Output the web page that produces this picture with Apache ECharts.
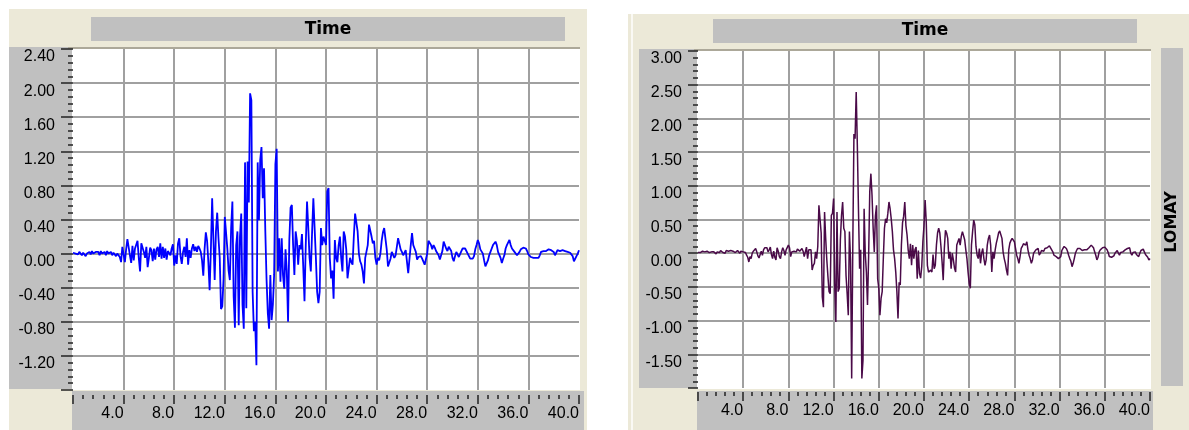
<!DOCTYPE html>
<html>
<head>
<meta charset="utf-8">
<style>
html, body { margin: 0; padding: 0; background: #fff; }
#main { width: 1189px; height: 430px; }
</style>
<script src="https://cdn.jsdelivr.net/npm/echarts@6/dist/echarts.min.js"></script>
</head>
<body>
<div id="main"></div>
<script>
// sample step of both records (s)
const dt = 0.1;

// left record (blue), one value every dt from 0 to 40 s
const accBlue = [
  0.01, 0.02, 0.00, 0.01, -0.01, 0.02, 0.00, -0.02, 0.01, 0.00,
  -0.03, 0.00, -0.02, 0.02, -0.01, 0.03, 0.00, -0.02, 0.02, 0.01,
  0.02, -0.02, 0.03, 0.00, -0.01, 0.02, -0.02, 0.03, 0.00, -0.01,
  0.02, -0.02, 0.01, 0.03, -0.03, 0.00, 0.02, -0.04, -0.10, 0.08,
  0.10, -0.10, 0.05, 0.17, 0.15, -0.02, -0.11, 0.09, -0.08, 0.06,
  0.05, 0.15, -0.05, -0.21, 0.12, 0.10, 0.02, -0.05, 0.08, -0.16,
  -0.05, 0.07, 0.04, -0.09, 0.06, -0.07, 0.05, 0.08, -0.04, 0.12,
  -0.06, 0.08, -0.05, 0.06, -0.07, 0.03, 0.05, -0.02, 0.06, 0.11,
  -0.14, -0.02, -0.12, 0.12, 0.18, -0.03, -0.12, 0.02, 0.08, -0.04,
  0.18, -0.13, 0.04, -0.05, 0.06, 0.11, 0.03, 0.08, 0.02, 0.09,
  0.06, 0.02, -0.08, -0.26, 0.05, 0.25, 0.15, -0.10, -0.43, 0.05,
  0.65, 0.66, -0.31, 0.26, 0.48, 0.18, -0.05, -0.65, -0.62, -0.30,
  0.43, 0.41, 0.06, -0.20, -0.31, 0.30, 0.61, -0.50, -0.87, 0.10,
  0.26, -0.84, 0.20, 0.47, -0.60, -0.88, 1.07, -0.64, 1.08, 0.60,
  1.88, 1.80, -0.45, -0.91, -0.80, -1.31, 1.07, 0.39, 1.10, 1.25,
  0.65, 1.00, 0.28, -0.30, -0.70, -0.88, -0.25, -0.78, -0.60, -0.25,
  1.05, 1.23, -0.21, 0.18, -0.33, 0.18, -0.25, -0.41, 0.05, -0.20,
  -0.80, 0.16, 0.54, 0.57, 0.10, -0.25, 0.26, 0.15, -0.13, 0.10,
  0.05, 0.23, -0.15, -0.56, 0.10, 0.61, 0.30, -0.05, -0.21, 0.25,
  0.65, 0.66, -0.05, -0.45, -0.58, -0.45, 0.30, 0.10, 0.20, 0.18,
  0.10, 0.73, 0.77, -0.05, -0.29, -0.20, -0.53, 0.16, -0.05, -0.10,
  0.10, 0.20, -0.05, -0.21, 0.26, 0.20, 0.05, -0.29, -0.31, -0.05,
  -0.10, -0.13, 0.20, 0.47, 0.45, 0.26, 0.00, -0.09, -0.13, -0.21,
  -0.35, -0.05, -0.03, 0.10, 0.34, 0.33, 0.20, 0.12, 0.15, -0.05,
  -0.13, -0.05, -0.08, 0.00, 0.15, 0.25, 0.30, 0.28, 0.05, -0.15,
  -0.17, -0.06, 0.02, 0.03, -0.05, -0.02, 0.08, 0.18, 0.17, 0.05,
  0.02, -0.02, 0.00, 0.04, 0.02, -0.23, -0.06, 0.10, 0.24, 0.10,
  0.06, 0.02, -0.07, -0.04, -0.05, -0.03, -0.06, -0.08, -0.13, -0.11,
  0.00, 0.15, 0.13, 0.10, 0.05, 0.10, 0.07, 0.03, 0.05, -0.02,
  -0.07, -0.05, 0.03, 0.14, 0.10, 0.06, 0.03, 0.08, 0.07, 0.03,
  -0.05, -0.09, -0.03, 0.02, -0.01, -0.04, -0.02, 0.03, 0.06, 0.08,
  0.06, 0.04, 0.00, -0.03, -0.06, -0.05, -0.06, -0.03, 0.05, 0.10,
  0.16, 0.12, 0.05, 0.03, 0.00, -0.08, -0.15, -0.15, -0.08, -0.02,
  0.02, 0.06, 0.10, 0.12, 0.14, 0.10, 0.02, 0.00, -0.05, -0.11,
  -0.06, -0.02, 0.06, 0.10, 0.12, 0.16, 0.10, 0.06, 0.05, 0.02,
  0.02, -0.02, -0.03, 0.02, 0.05, 0.07, 0.07, 0.06, 0.06, 0.03,
  -0.01, -0.02, -0.04, -0.03, -0.05, -0.04, -0.05, -0.06, -0.05, -0.02,
  0.02, 0.02, 0.03, 0.04, 0.03, 0.04, 0.05, 0.04, 0.04, 0.05,
  0.02, -0.02, 0.01, 0.04, 0.02, 0.03, 0.01, 0.04, 0.02, 0.03,
  0.04, 0.02, 0.03, 0.01, 0.02, -0.03, -0.09, -0.08, -0.03, 0.00,
  0.04
];

// right record (LOMAY)
const accPurple = [
  0.01, 0.02, 0.01, 0.02, 0.03, 0.01, 0.02, 0.00, 0.03, 0.02,
  0.01, 0.03, 0.02, 0.00, 0.02, 0.03, -0.01, 0.02, 0.03, 0.01,
  0.04, 0.02, 0.01, 0.03, 0.00, 0.04, 0.02, 0.03, 0.01, 0.04,
  0.02, 0.03, 0.05, 0.01, 0.03, 0.04, 0.02, 0.00, 0.03, 0.01,
  0.02, 0.04, 0.01, -0.03, -0.06, -0.13, -0.05, -0.08, 0.00, 0.03,
  0.05, 0.07, 0.02, -0.04, -0.07, -0.02, 0.03, -0.03, 0.05, 0.08,
  0.06, 0.08, 0.02, 0.05, 0.09, -0.02, -0.08, 0.03, -0.06, -0.10,
  0.08, 0.03, -0.05, -0.08, 0.02, 0.08, 0.04, -0.03, 0.05, 0.06,
  0.12, 0.08, -0.05, 0.02, 0.04, 0.03, 0.05, 0.02, 0.06, 0.04,
  0.03, 0.05, 0.07, 0.03, -0.05, 0.02, 0.09, -0.08, 0.05, 0.07,
  0.05, -0.25, -0.18, -0.15, 0.02, -0.08, 0.10, 0.71, 0.69, 0.30,
  -0.65, -0.80, 0.61, 0.22, -0.10, -0.35, -0.57, -0.60, 0.56, 0.59,
  0.81, -0.47, -1.02, 0.61, -0.57, -0.52, 0.20, 0.56, 0.76, 0.37,
  0.32, -0.33, -0.60, -0.92, 0.32, -0.10, -1.86, 0.12, 1.77, 1.70,
  2.39, 1.60, 0.66, -0.23, 0.05, -1.86, -1.59, 0.66, 0.00, -0.28,
  -0.77, -0.05, 0.91, 1.18, 0.86, 0.37, 0.02, 0.55, 0.71, -0.38,
  -0.52, -0.92, -0.67, -0.57, -0.08, 0.37, 0.51, 0.45, 0.59, 0.76,
  0.66, 0.51, 0.32, 0.05, -0.08, -0.28, -0.57, -0.97, -0.43, -0.47,
  0.12, 0.45, 0.55, 0.76, 0.41, 0.27, 0.05, -0.08, 0.14, -0.18,
  0.12, -0.08, 0.05, 0.09, -0.38, 0.04, -0.30, -0.37, -0.20, 0.17,
  0.41, 0.79, 0.46, -0.18, -0.28, -0.28, -0.25, -0.28, -0.02, -0.23,
  -0.18, 0.12, 0.30, 0.37, 0.30, 0.10, -0.13, -0.40, 0.07, 0.34,
  0.30, 0.22, -0.08, 0.02, -0.23, 0.00, -0.10, -0.22, -0.28, 0.12,
  0.17, 0.22, 0.12, 0.25, 0.32, 0.34, 0.20, 0.05, -0.08, -0.28,
  -0.45, -0.52, 0.12, 0.32, 0.49, 0.42, 0.10, -0.03, -0.08, 0.07,
  -0.15, 0.00, 0.07, -0.08, -0.18, -0.10, 0.12, 0.22, 0.27, 0.12,
  -0.28, 0.02, -0.08, 0.05, 0.15, 0.22, 0.30, 0.33, 0.34, 0.22,
  0.02, -0.08, -0.15, -0.25, -0.33, 0.05, 0.15, 0.19, 0.22, 0.20,
  0.17, 0.07, -0.03, -0.08, -0.15, -0.05, 0.07, 0.10, 0.14, 0.12,
  0.12, 0.17, 0.05, -0.03, -0.08, -0.15, -0.10, 0.00, 0.02, 0.05,
  0.05, 0.07, -0.03, 0.00, 0.04, 0.05, 0.03, 0.07, 0.06, 0.08,
  0.10, 0.11, 0.08, 0.05, 0.02, -0.03, -0.02, -0.05, -0.06, -0.08,
  -0.10, -0.05, 0.04, 0.07, 0.10, 0.09, 0.07, 0.03, -0.03, -0.08,
  -0.12, -0.20, -0.15, -0.08, 0.00, 0.04, 0.07, 0.09, 0.07, 0.05,
  0.04, 0.06, 0.05, 0.07, 0.05, 0.06, 0.08, 0.10, 0.12, 0.10,
  0.08, 0.02, -0.03, -0.10, -0.06, 0.02, 0.05, 0.06, 0.08, 0.09,
  0.09, 0.07, 0.05, 0.01, -0.05, -0.03, -0.06, -0.08, -0.04, 0.00,
  0.02, 0.04, 0.00, -0.03, 0.01, 0.03, 0.02, 0.04, 0.05, 0.07,
  0.07, 0.09, 0.08, 0.00, -0.03, 0.01, 0.03, 0.02, -0.02, -0.04,
  -0.05, 0.00, 0.04, 0.05, 0.06, 0.02, -0.02, -0.04, -0.06, -0.10,
  -0.08
];

// axis ranges
const timeMin = 0, timeMax = 40, timeStep = 4;
const leftMin = -1.6, leftMax = 2.4, leftStep = 0.4;
const rightMin = -2, rightMax = 3, rightStep = 0.5;
const titleText = 'Time';
const stationName = 'LOMAY';

const numFont = '"Liberation Sans", Arial, sans-serif';
const boldFont = 'bold 17px "DejaVu Sans", sans-serif';

function toPairs(values){
    return values.map((v, i) => [+(i * dt).toFixed(1), v])
}

function xAxisFor(idx, offset){
    return {
        type: 'value', gridIndex: idx, position: 'bottom',
        min: timeMin, max: timeMax, interval: timeStep,
        offset: offset,
        axisLine: { show: false, onZero: false },
        axisTick: { show: true, length: 9, lineStyle: { color: '#222', width: 1.5 } },
        minorTick: { show: true, splitNumber: 5, length: 4, lineStyle: { color: '#222', width: 1.5 } },
        axisLabel: {
            showMinLabel: false, align: 'right', margin: 11,
            fontSize: 16, fontFamily: numFont, color: '#000',
            formatter: v => v.toFixed(1)
        },
        splitLine: { show: true, showMinLine: false, showMaxLine: false, lineStyle: { color: '#a0a0a0', width: 2 } }
    }
}

function yAxisFor(idx, min, max, step, tickLen, margin){
    return {
        type: 'value', gridIndex: idx, position: 'left',
        min: min, max: max, interval: step,
        axisLine: { show: false, onZero: false },
        axisTick: { show: true, length: tickLen, lineStyle: { color: '#222', width: 1.5 } },
        minorTick: { show: true, splitNumber: 5, length: 5, lineStyle: { color: '#222', width: 1.5 } },
        axisLabel: {
            showMinLabel: false, verticalAlign: 'top', margin: margin,
            fontSize: 16, fontFamily: numFont, color: '#000',
            formatter: v => v.toFixed(2)
        },
        splitLine: { show: true, showMinLine: false, showMaxLine: false, lineStyle: { color: '#a0a0a0', width: 2 } }
    }
}

function rect(x, y, w, h, fill){
    return { type: 'rect', z: -10, shape: { x: x, y: y, width: w, height: h }, style: { fill: fill }, silent: true }
}

const beige = '#ece9d8', panelGray = '#c0c0c0', shadow = '#aca899';

const myChart = echarts.init(document.getElementById('main'));
const option = {
    animation: false,
    backgroundColor: '#fff',
    graphic: [
        // left frame
        rect(9, 9, 578, 421, beige),
        rect(91, 17, 474, 24, panelGray),
        rect(9, 47, 63, 342, panelGray),
        rect(72, 48, 508, 342, '#fff'),
        rect(68, 47, 512, 2, shadow),
        rect(72, 391, 512, 39, panelGray),
        { type: 'text', z: 10, x: 328, y: 30, style: { text: titleText, font: boldFont, fill: '#000', align: 'center', verticalAlign: 'middle' } },
        // right frame
        rect(628, 14, 561, 416, beige),
        rect(631, 14, 2, 416, '#faf9f4'),
        rect(713, 19, 424, 24, panelGray),
        rect(639, 49, 58, 339, panelGray),
        rect(697, 50, 454, 339, '#fff'),
        rect(694, 49, 457, 2, shadow),
        rect(697, 391, 456, 39, panelGray),
        rect(1161, 48, 22, 338, panelGray),
        { type: 'text', z: 10, x: 925, y: 31, style: { text: titleText, font: boldFont, fill: '#000', align: 'center', verticalAlign: 'middle' } },
        // rotated a quarter turn counter-clockwise: reads bottom to top
        { type: 'text', z: 10, x: 1172, y: 222, rotation: Math.PI / 2, style: { text: stationName, font: 'bold 16px "DejaVu Sans", sans-serif', fill: '#000', align: 'center', verticalAlign: 'middle' } }
    ],
    grid: [
        { left: 73, top: 49, width: 506, height: 341 },
        { left: 698, top: 51, width: 452, height: 337 }
    ],
    xAxis: [xAxisFor(0, 5), xAxisFor(1, 4)],
    yAxis: [
        yAxisFor(0, leftMin, leftMax, leftStep, 12, 18),
        yAxisFor(1, rightMin, rightMax, rightStep, 10, 16)
    ],
    series: [
        {
            name: 'blue', type: 'line', xAxisIndex: 0, yAxisIndex: 0,
            data: toPairs(accBlue), showSymbol: false, silent: true,
            lineStyle: { color: '#0000ff', width: 1.8 }
        },
        {
            name: stationName, type: 'line', xAxisIndex: 1, yAxisIndex: 1,
            data: toPairs(accPurple), showSymbol: false, silent: true,
            lineStyle: { color: '#4a0a48', width: 1.5 }
        }
    ]
};
option && myChart.setOption(option);
</script>
</body>
</html>
